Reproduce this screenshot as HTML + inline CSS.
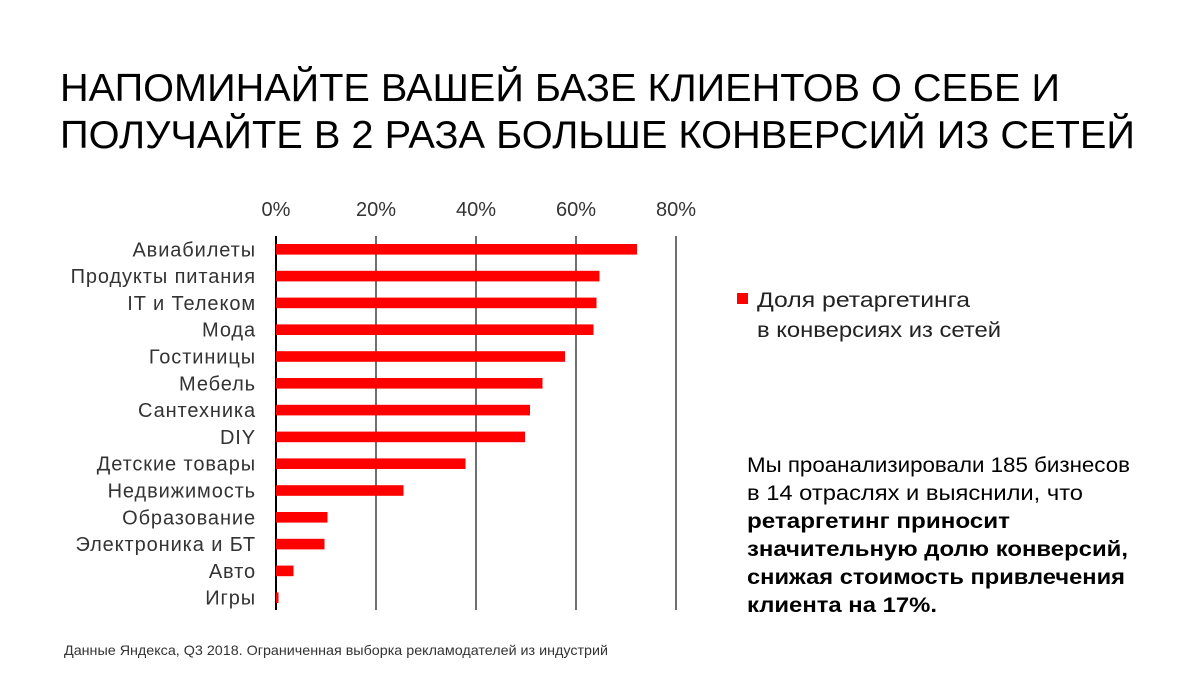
<!DOCTYPE html>
<html><head><meta charset="utf-8"><style>
body{margin:0;background:#fff;width:1200px;height:676px;overflow:hidden;font-family:"Liberation Sans","Noto Sans CJK SC",sans-serif;}
</style></head><body>
<svg width="1200" height="676" xmlns="http://www.w3.org/2000/svg" style="font-family:'Liberation Sans',sans-serif">
<text x="60" y="101" font-size="39" fill="#000" textLength="1000" lengthAdjust="spacingAndGlyphs">НАПОМИНАЙТЕ ВАШЕЙ БАЗЕ КЛИЕНТОВ О СЕБЕ И</text>
<text x="60" y="148" font-size="39" fill="#000" textLength="1075" lengthAdjust="spacingAndGlyphs">ПОЛУЧАЙТЕ В 2 РАЗА БОЛЬШЕ КОНВЕРСИЙ ИЗ СЕТЕЙ</text>
<g id="grid"></g>
<g id="ticks"></g>
<g id="bars"></g>
<g id="labels"></g>
<rect x="737" y="293" width="11" height="11" fill="#ff0000"/>
<text x="757" y="307" font-size="21" fill="#222" textLength="213" lengthAdjust="spacingAndGlyphs">Доля ретаргетинга</text>
<text x="757" y="337" font-size="21" fill="#222" textLength="244" lengthAdjust="spacingAndGlyphs">в конверсиях из сетей</text>
<g font-size="21" fill="#000">
<text x="747" y="472" textLength="383" lengthAdjust="spacingAndGlyphs">Мы проанализировали 185 бизнесов</text>
<text x="747" y="500" textLength="336" lengthAdjust="spacingAndGlyphs">в 14 отраслях и выяснили, что</text>
<text x="747" y="528" font-weight="bold" textLength="263" lengthAdjust="spacingAndGlyphs">ретаргетинг приносит</text>
<text x="747" y="556" font-weight="bold" textLength="381" lengthAdjust="spacingAndGlyphs">значительную долю конверсий,</text>
<text x="747" y="584" font-weight="bold" textLength="378" lengthAdjust="spacingAndGlyphs">снижая стоимость привлечения</text>
<text x="747" y="612" font-weight="bold" textLength="190" lengthAdjust="spacingAndGlyphs">клиента на 17%.</text>
</g>
<text x="64" y="655" font-size="14" fill="#333" textLength="544" lengthAdjust="spacingAndGlyphs">Данные Яндекса, Q3 2018. Ограниченная выборка рекламодателей из индустрий</text>
</svg>
<script>
const categories=["Авиабилеты","Продукты питания","IT и Телеком","Мода","Гостиницы","Мебель","Сантехника","DIY","Детские товары","Недвижимость","Образование","Электроника и БТ","Авто","Игры"];
const values=[72.2,64.7,64.1,63.5,57.8,53.3,50.8,49.8,37.9,25.5,10.3,9.7,3.5,0.5];
const tickValues=[0,20,40,60,80];
const tickLabels=["0%","20%","40%","60%","80%"];
const NS="http://www.w3.org/2000/svg";
const x=v=>276+v*5;
const y=i=>249.3+i*26.8;
function mk(t,a,p){const e=document.createElementNS(NS,t);for(const k in a)e.setAttribute(k,a[k]);p.appendChild(e);return e;}
const grid=document.getElementById('grid'),ticks=document.getElementById('ticks'),bars=document.getElementById('bars'),labels=document.getElementById('labels');
tickValues.forEach((v,i)=>{
 const l=mk('line',{x1:x(v),x2:x(v),y1:236,y2:610,stroke:i==0?'#000':'#222','stroke-width':i==0?2:1.3},grid);
 
 
 const t=mk('text',{x:x(v),y:216,'font-size':20,fill:'#333','text-anchor':'middle'},ticks);
 t.textContent=tickLabels[i];
 
 
});
categories.forEach((c,i)=>{
 const r=mk('rect',{x:x(0),y:y(i)-5.3,width:x(values[i])-x(0),height:10.6,fill:'#ff0000'},bars);
 
 
 const t=mk('text',{x:256,y:y(i)+7,'font-size':20,fill:'#333','text-anchor':'end','letter-spacing':'0.9'},labels);
 t.textContent=c;
 
 
});
</script>
</body></html>
